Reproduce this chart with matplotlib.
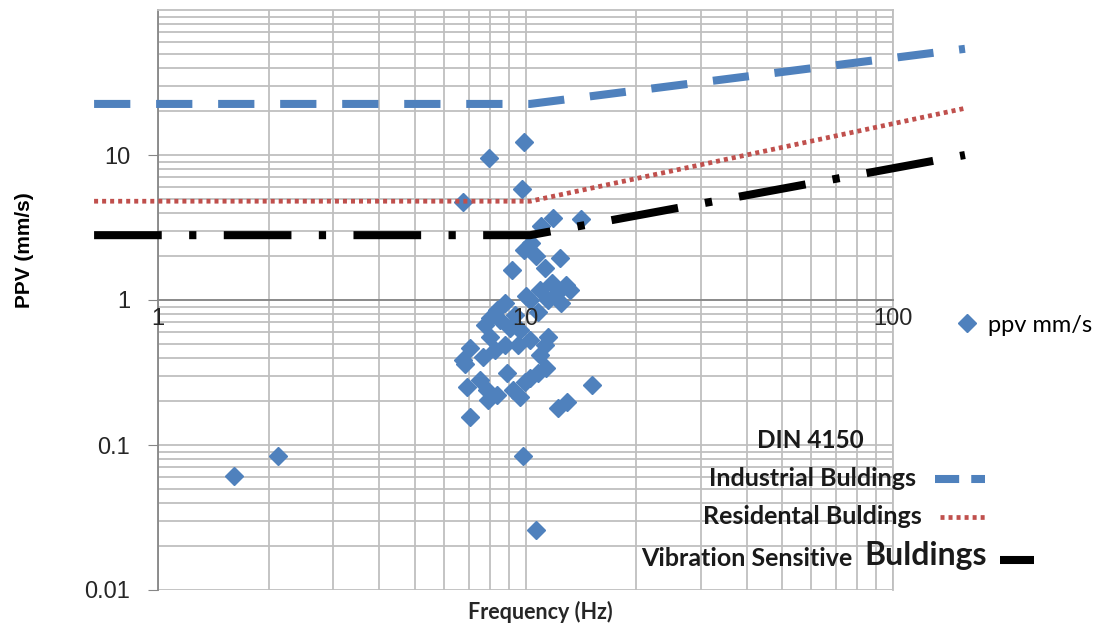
import numpy as np
import matplotlib.pyplot as plt
from matplotlib.lines import Line2D

# measured blast vibrations (frequency Hz, ppv mm/s)
freq = [1.61, 2.12, 9.9, 7.96, 9.8, 6.76,
        11.0, 11.9, 14.2, 10.35, 9.9, 10.7, 12.4, 9.2, 11.3, 12.9, 11.8,
        10.95, 12.2, 10.3, 11.5, 10.0, 12.5, 13.2, 10.8,
        8.8, 8.36, 8.0, 7.76, 8.5, 9.07, 9.36, 9.66, 9.54, 10.3, 11.5, 11.3,
        8.8, 8.0, 8.26, 7.66, 7.06, 6.76, 6.85, 6.93, 7.5, 7.9, 7.86, 8.36,
        8.9, 9.25, 9.66, 9.97, 10.3, 10.8, 11.4, 10.95, 12.25, 12.97, 15.2,
        7.06, 9.85, 10.7]
ppv = [0.061, 0.084, 12.3, 9.5, 5.8, 4.74,
       3.24, 3.68, 3.62, 2.47, 2.21, 2.01, 1.95, 1.61, 1.66, 1.27, 1.31,
       1.17, 1.12, 1.0, 1.0, 1.07, 0.95, 1.17, 0.83,
       0.95, 0.85, 0.75, 0.67, 0.73, 0.64, 0.79, 0.62, 0.49, 0.53, 0.556, 0.49,
       0.49, 0.556, 0.45, 0.405, 0.467, 0.386, 0.36, 0.25, 0.28, 0.204, 0.24, 0.22,
       0.314, 0.239, 0.214, 0.272, 0.29, 0.314, 0.34, 0.418, 0.18, 0.198, 0.259,
       0.156, 0.084, 0.026]

# DIN 4150 guide lines (drawn freehand in the original)
din_f = [0.67, 10.3, 157]
industrial = [22.5, 22.5, 54]
residential = [4.8, 4.8, 21]
sensitive = [2.8, 2.8, 10]

xticks = [1, 10, 100]
yticks = [0.01, 0.1, 1, 10]
ytick_labels = ['0.01', '0.1', '1', '10']

blue = '#4F81BD'
red = '#C0504D'
grid_c = '#BFBFBF'
txt = '#1a1a1a'

fig = plt.figure(figsize=(11.05, 6.32), dpi=100)
ax = fig.add_axes([158/1105, 42/632, 735/1105, 580/632])
ax.set_xscale('log')
ax.set_yscale('log')
ax.set_xlim(1, 100)
ax.set_ylim(0.01, 100)

ax.grid(True, which='both', color=grid_c, lw=1.3)
ax.set_axisbelow(True)
for s in ax.spines.values():
    s.set_color(grid_c)
    s.set_linewidth(1.3)
ax.spines['left'].set_color('#868686')
ax.spines['bottom'].set_position(('data', 1))
ax.spines['bottom'].set_color('#868686')

ax.set_xticks(xticks)
ax.set_xticklabels([])
ax.tick_params(axis='x', which='both', length=0)
ax.set_yticks(yticks)
ax.set_yticklabels(ytick_labels, fontsize=17, color='#262626',
                   family='Liberation Sans')
ax.tick_params(axis='y', which='major', length=7, color='#868686', pad=13)
ax.tick_params(axis='y', which='minor', length=0)
ax.yaxis.set_minor_formatter(plt.NullFormatter())
ax.xaxis.set_minor_formatter(plt.NullFormatter())

for xt in xticks:
    ax.annotate(str(xt), (xt, 1), xytext=(0, -6), textcoords='offset points',
                ha='center', va='top', fontsize=17, color='#262626',
                family='Liberation Sans', zorder=10)

ax.plot(freq, ppv, 'D', color=blue, ms=9.5, mec=blue, ls='none',
        zorder=3, clip_on=False)

ax.plot(din_f, industrial, color=blue, lw=5.8, dashes=(4.5, 3.2),
        solid_capstyle='butt', dash_capstyle='butt', clip_on=False, zorder=4)
ax.plot(din_f, residential, color=red, lw=3.4, dashes=(0.85, 0.85),
        dash_capstyle='butt', clip_on=False, zorder=4)
ax.plot(din_f, sensitive, color='black', lw=5.8, dashes=(8.4, 3.4, 0.9, 3.4),
        dash_capstyle='butt', solid_capstyle='butt', clip_on=False, zorder=4)

fig.text(25/1105, 1 - 250/632, 'PPV (mm/s)', rotation=90, ha='center',
         va='center', fontsize=15, fontweight='bold', family='Liberation Sans')
fig.text(540/1105, 1 - 612/632, 'Frequency (Hz)', ha='center', va='center',
         fontsize=15.5, fontweight='bold', family='Lato', color='#262626')

# scatter legend
fig.legend([Line2D([], [], marker='D', color=blue, ls='none', ms=9.5)],
           ['ppv mm/s'], loc='center left', frameon=False,
           bbox_to_anchor=(934/1105, 1 - 325/632), handlelength=1,
           handletextpad=0.4, prop={'family': 'Lato', 'size': 17})

# DIN 4150 legend block
fig.text(810/1105, 1 - 440/632, 'DIN 4150', ha='center', va='center',
         fontsize=17.5, fontweight='bold', family='Lato', color=txt)
fig.text(916/1105, 1 - 479/632, 'Industrial Buldings', ha='right', va='center',
         fontsize=18, fontweight='bold', family='Lato', color=txt)
fig.text(922/1105, 1 - 517/632, 'Residental Buldings', ha='right', va='center',
         fontsize=18, fontweight='bold', family='Lato', color=txt)
fig.text(852/1105, 1 - 558/632, 'Vibration Sensitive', ha='right', va='center',
         fontsize=18, fontweight='bold', family='Lato', color=txt)
fig.text(864/1105, 1 - 556/632, 'Buldings', ha='left', va='center',
         fontsize=23, fontweight='bold', family='Lato', color=txt)

fig.add_artist(Line2D([935/1105, 985/1105], [1 - 479/632] * 2, color=blue,
                      lw=5.8, dashes=(3.0, 1.5), transform=fig.transFigure))
fig.add_artist(Line2D([940/1105, 987/1105], [1 - 517/632] * 2, color=red,
                      lw=3.4, dashes=(0.85, 0.85), transform=fig.transFigure))
fig.add_artist(Line2D([1000/1105, 1034/1105], [1 - 560/632] * 2, color='black',
                      lw=5.8, solid_capstyle='butt', transform=fig.transFigure))

fig.savefig('out.png', dpi=100)
